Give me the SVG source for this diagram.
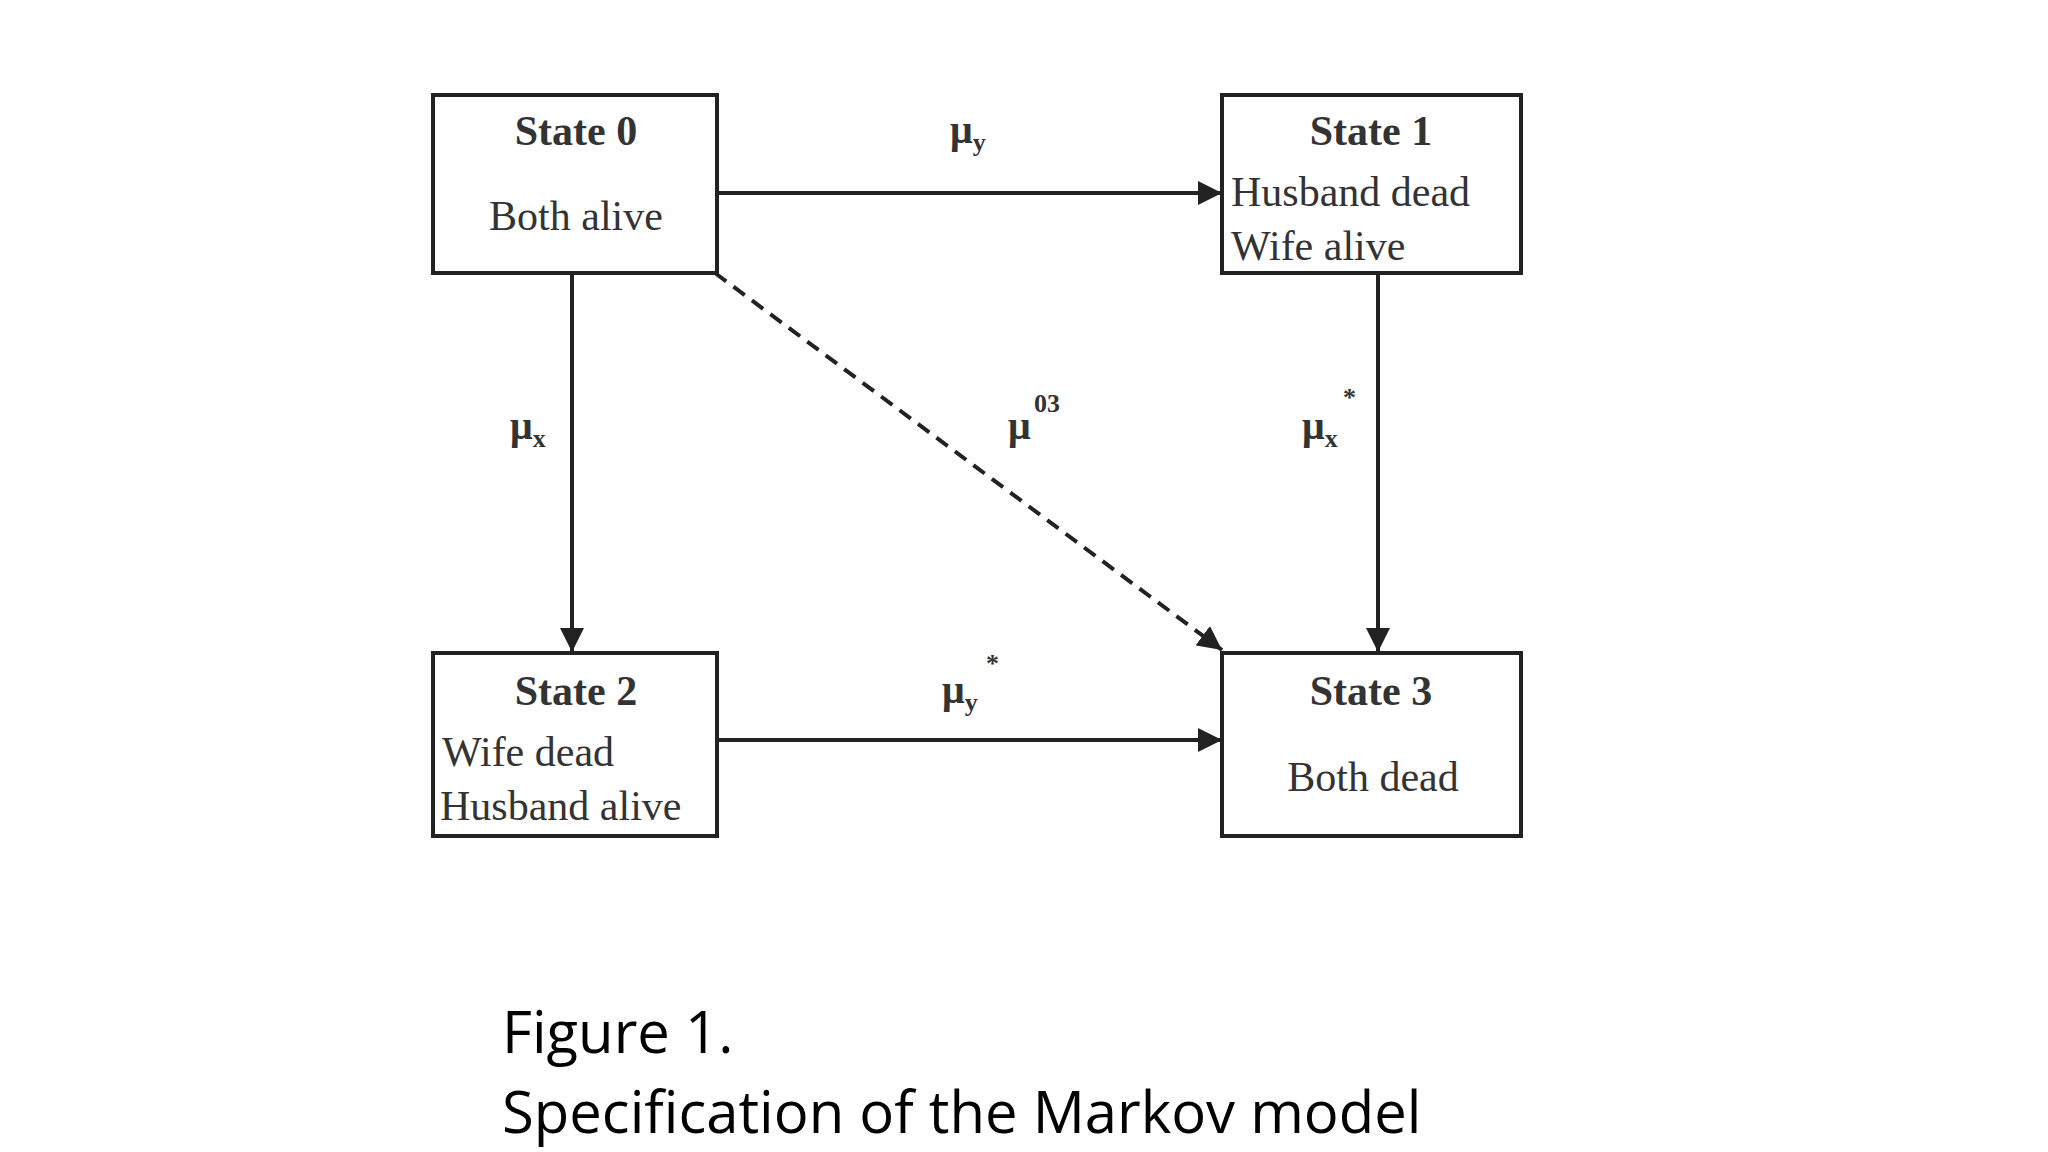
<svg xmlns="http://www.w3.org/2000/svg" width="2048" height="1152" viewBox="0 0 2048 1152">
<style>
.box{fill:#fff;stroke:#222;stroke-width:4}
.t{font-family:"Liberation Serif",serif;font-size:42px;fill:#333}
.b{font-weight:bold;text-anchor:middle}
.c{text-anchor:middle}
.l{font-family:"Liberation Serif",serif;font-weight:bold;font-size:40px;fill:#333}
.s{font-size:26px}
.e{stroke:#222;stroke-width:4;fill:none;marker-end:url(#a)}
.cap{font-family:"Open Sans","Liberation Sans",sans-serif;font-size:58px;fill:#000}
</style>
<defs><marker id="a" viewBox="0 0 10 10" refX="10" refY="5" markerWidth="6" markerHeight="6" orient="auto" markerUnits="strokeWidth"><path d="M0,0L10,5L0,10z" fill="#222"/></marker></defs>
<rect width="2048" height="1152" fill="#fff"/>
<g id="connectors">
<line class="e" x1="717" y1="193" x2="1222" y2="193"/>
<line class="e" x1="717" y1="740" x2="1222" y2="740"/>
<line class="e" x1="572" y1="273" x2="572" y2="652"/>
<line class="e" x1="1378" y1="273" x2="1378" y2="652"/>
<line class="e" x1="715" y1="273" x2="1222" y2="650" stroke-dasharray="14,9"/>
<text class="l" x="950" y="143">μ<tspan class="s" dy="8">y</tspan></text>
<text class="l" x="510" y="439">μ<tspan class="s" dy="8">x</tspan></text>
<text class="l" x="1008" y="439">μ</text><text class="l s" x="1034" y="412">03</text>
<text class="l" x="1302" y="439">μ<tspan class="s" dy="8">x</tspan></text><text class="l s" x="1343" y="406">*</text>
<text class="l" x="942" y="703">μ<tspan class="s" dy="8">y</tspan></text><text class="l s" x="986" y="672">*</text>
</g>
<g id="state0"><rect class="box" x="433" y="95" width="284" height="178"/>
<text class="t b" x="576" y="145">State 0</text><text class="t c" x="576" y="230">Both alive</text></g>
<g id="state1"><rect class="box" x="1222" y="95" width="299" height="178"/>
<text class="t b" x="1371" y="145">State 1</text><text class="t" x="1231" y="206">Husband dead</text><text class="t" x="1231" y="260">Wife alive</text></g>
<g id="state2"><rect class="box" x="433" y="653" width="284" height="183"/>
<text class="t b" x="576" y="705">State 2</text><text class="t" x="442" y="766">Wife dead</text><text class="t" x="440" y="820">Husband alive</text></g>
<g id="state3"><rect class="box" x="1222" y="653" width="299" height="183"/>
<text class="t b" x="1371" y="705">State 3</text><text class="t c" x="1373" y="791">Both dead</text></g>
<text class="cap" x="502" y="1053">Figure 1.</text>
<text class="cap" x="502" y="1133">Specification of the Markov model</text>
</svg>
